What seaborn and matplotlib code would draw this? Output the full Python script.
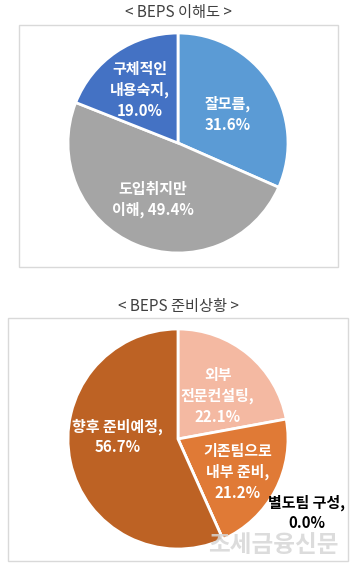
import matplotlib
matplotlib.use("Agg")
import matplotlib.pyplot as plt
from matplotlib.patches import Rectangle
import seaborn as sns

sns.set_theme(style="white")
plt.rcParams['font.family'] = ['Noto Sans CJK KR', 'DejaVu Sans']

# ---- data ----
title1 = "< BEPS 이해도 >"
labels1 = ["잘모름", "도입취지만\n이해", "구체적인\n내용숙지"]
values1 = [31.6, 49.4, 19.0]
colors1 = ["#5B9BD5", "#A5A5A5", "#4472C4"]

title2 = "< BEPS 준비상황 >"
labels2 = ["외부\n전문컨설팅", "기존팀으로\n내부 준비", "별도팀 구성", "향후 준비예정"]
values2 = [22.1, 21.2, 0.0, 56.7]
colors2 = ["#F4B9A2", "#E07A36", "#C55A11", "#BD6224"]

# label layout: separator between name and value, placement (fraction of radius)
sep1 = ["\n", " ", "\n"]
sep2 = ["\n", "\n", "\n", "\n"]
pos1 = [(0.45, 0.26), (-0.23, -0.51), (-0.35, 0.48)]
pos2 = [(0.36, 0.39), (0.54, -0.30), (1.17, -0.67), (-0.55, 0.02)]
txtcol1 = ["white", "white", "white"]
txtcol2 = ["white", "white", "black", "white"]
W, H = 355, 570

fig = plt.figure(figsize=(W / 100, H / 100), dpi=100)
fig.patch.set_facecolor("white")


def frac_rect(x0, y0, x1, y1):
    return [x0 / W, 1 - y1 / H, (x1 - x0) / W, (y1 - y0) / H]


# border boxes
for (x0, y0, x1, y1) in [(19, 25, 338, 267), (8, 318, 348, 561)]:
    fig.patches.append(Rectangle((x0 / W, 1 - y1 / H), (x1 - x0) / W, (y1 - y0) / H,
                                 transform=fig.transFigure, fill=False,
                                 edgecolor="#D9D9D9", linewidth=1.0))

fig.text(178 / W, 1 - 13 / H, title1, ha="center", va="center", fontsize=11, color="#404040")
fig.text(178 / W, 1 - 307 / H, title2, ha="center", va="center", fontsize=11, color="#404040")


def draw_pie(rect, labels, values, colors, seps, pos, tcols):
    ax = fig.add_axes(rect)
    ax.pie(values, colors=colors, startangle=90, counterclock=False,
           wedgeprops=dict(edgecolor="white", linewidth=2))
    for lab, v, s, (x, y), c in zip(labels, values, seps, pos, tcols):
        ax.text(x, y, f"{lab},{s}{v:.1f}%", ha="center", va="center",
                fontsize=10.8, fontweight="bold", color=c, linespacing=1.35,
                clip_on=False)
    ax.set_xlim(-1.0, 1.0)
    ax.set_ylim(-1.0, 1.0)
    ax.set_aspect("equal")
    ax.axis("off")
    return ax


draw_pie(frac_rect(68, 33, 288, 253), labels1, values1, colors1, sep1, pos1, txtcol1)
draw_pie(frac_rect(68, 329, 288, 549), labels2, values2, colors2, sep2, pos2, txtcol2)

# watermark
fig.text(273 / W, 1 - 545 / H, "조세금융신문", ha="center", va="center",
         fontsize=17, fontweight="bold", color="#D6D6D6", alpha=0.85)

fig.savefig("out.png", dpi=100, facecolor="white")
